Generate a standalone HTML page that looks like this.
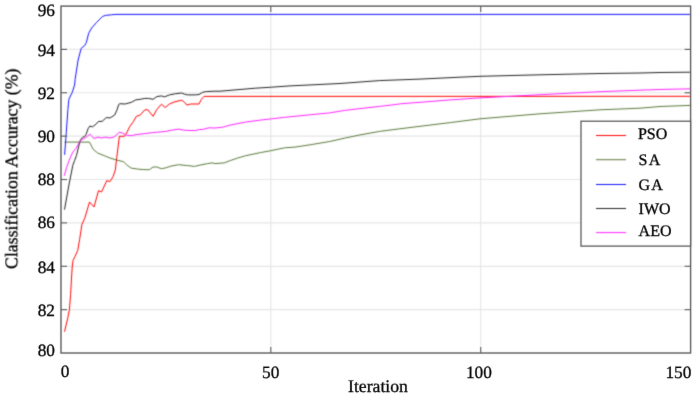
<!DOCTYPE html>
<html><head><meta charset="utf-8"><style>
html,body{margin:0;padding:0;background:#fff;}
svg{display:block;font-family:"Liberation Serif",serif;text-rendering:geometricPrecision;}
</style></head><body>
<svg width="695" height="397" viewBox="0 0 695 397">
<defs><filter id="bl" color-interpolation-filters="sRGB" filterUnits="userSpaceOnUse" x="0" y="0" width="695" height="397"><feConvolveMatrix order="3" kernelMatrix="1 4 1 4 16 4 1 4 1" divisor="36" edgeMode="duplicate"/></filter><filter id="bf" color-interpolation-filters="sRGB" filterUnits="userSpaceOnUse" x="0" y="0" width="695" height="397"><feConvolveMatrix order="3" kernelMatrix="1 8 1 8 64 8 1 8 1" divisor="100" edgeMode="duplicate"/></filter><filter id="bt" color-interpolation-filters="sRGB" filterUnits="userSpaceOnUse" x="0" y="0" width="695" height="397"><feConvolveMatrix order="3" kernelMatrix="1 16 1 16 256 16 1 16 1" divisor="324" edgeMode="duplicate"/></filter></defs>
<rect width="695" height="397" fill="#fff"/>
<g filter="url(#bl)">
<g stroke="#e6e6e6" stroke-width="1.2"><line x1="61.0" y1="309.66" x2="690.6" y2="309.66"/><line x1="61.0" y1="266.28" x2="690.6" y2="266.28"/><line x1="61.0" y1="222.90" x2="690.6" y2="222.90"/><line x1="61.0" y1="179.52" x2="690.6" y2="179.52"/><line x1="61.0" y1="136.14" x2="690.6" y2="136.14"/><line x1="61.0" y1="92.76" x2="690.6" y2="92.76"/><line x1="61.0" y1="49.38" x2="690.6" y2="49.38"/><line x1="270.80" y1="6.1" x2="270.80" y2="353.0"/><line x1="480.70" y1="6.1" x2="480.70" y2="353.0"/></g>
<polyline points="64.5,331.7 67.6,318.8 69.4,309.8 70.6,294.6 71.5,278.0 72.3,266.0 73.0,260.5 75.1,256.3 77.8,250.2 79.6,239.6 81.9,224.5 84.9,217.9 89.5,202.0 94.0,207.0 98.5,190.7 101.6,191.9 106.8,180.6 109.9,181.6 113.0,176.8 115.3,170.0 116.8,157.2 118.3,145.1 119.4,136.3 124.4,136.3 126.6,133.0 129.6,126.8 133.4,121.6 136.4,116.3 140.2,115.1 144.8,109.8 147.8,109.8 153.1,116.3 156.8,109.5 161.4,104.2 165.2,107.5 169.5,104.0 174.1,102.0 181.6,100.2 183.9,101.7 186.9,105.1 190.7,104.0 199.0,104.0 201.3,99.5 204.0,96.4 690.4,96.3" fill="none" stroke="#ff0000" stroke-width="1.0" stroke-linejoin="round"/>
<polyline points="64.5,142.1 89.5,142.1 93.2,149.3 97.8,153.1 105.3,156.1 110.0,158.0 116.0,159.9 123.6,161.7 126.6,164.8 131.2,168.1 137.2,169.0 143.2,169.6 149.3,169.7 153.1,167.0 156.8,167.0 161.4,168.7 165.9,167.8 171.0,166.1 178.6,164.7 187.7,165.6 194.5,166.4 200.0,165.1 207.6,163.6 212.1,162.9 215.1,163.6 224.2,162.9 230.2,160.6 237.8,158.0 245.3,155.8 260.4,152.6 270.2,150.8 284.6,147.8 295.0,147.1 310.1,144.8 329.7,141.5 344.8,138.1 360.0,134.9 379.6,131.4 395.0,129.4 420.0,126.3 450.2,122.6 480.0,118.8 540.0,113.8 600.0,109.8 640.0,108.2 660.0,106.5 690.4,105.4" fill="none" stroke="#5a7838" stroke-width="1.0" stroke-linejoin="round"/>
<polyline points="64.6,154.8 66.3,132.2 67.9,109.5 68.9,99.2 72.2,92.5 74.6,85.0 75.1,79.6 78.1,60.0 81.2,48.4 84.9,45.3 86.4,42.3 88.7,33.2 91.7,28.0 96.3,22.7 102.3,16.6 105.3,15.4 111.4,14.8 115.9,14.4 690.4,14.4" fill="none" stroke="#1010ff" stroke-width="1.0" stroke-linejoin="round"/>
<polyline points="64.5,209.6 69.1,184.0 71.9,170.0 72.8,165.3 74.7,160.3 76.6,155.2 78.5,147.0 80.4,140.1 82.3,137.6 84.8,136.3 86.1,134.4 88.0,128.8 89.9,126.0 92.4,126.9 96.1,124.1 98.4,121.5 102.2,121.3 106.3,117.6 110.1,117.9 114.7,115.0 116.9,110.1 118.8,104.4 119.9,103.7 125.1,104.0 131.2,102.4 135.7,99.9 140.2,99.3 144.8,98.4 148.5,98.4 153.1,99.3 156.8,96.6 161.4,95.9 164.4,96.9 169.5,94.9 175.6,93.7 181.6,93.0 184.6,94.2 187.7,94.9 195.2,94.9 199.0,94.5 202.8,92.2 206.6,91.5 214.9,91.2 220.0,91.2 255.3,88.2 271.4,87.2 290.0,85.9 340.0,83.5 379.3,80.6 420.0,79.1 460.0,77.2 480.0,76.3 540.0,74.8 600.0,73.5 640.0,73.0 660.0,72.5 690.4,72.2" fill="none" stroke="#222222" stroke-width="1.0" stroke-linejoin="round"/>
<polyline points="64.2,175.9 66.5,167.8 69.7,159.0 72.8,152.1 76.0,148.3 78.5,143.9 80.4,140.7 82.3,139.5 84.8,138.2 87.3,136.3 89.9,134.1 91.7,136.3 94.0,138.5 97.8,137.2 101.6,138.0 105.3,137.2 109.9,138.0 113.6,137.2 116.7,134.9 119.1,132.2 122.1,132.9 126.6,135.2 131.2,135.6 137.2,134.5 144.8,133.6 152.3,132.6 158.4,132.1 165.9,131.4 170.0,130.5 178.6,129.1 184.6,130.3 195.2,130.6 199.8,129.5 203.0,129.4 209.0,127.8 215.0,128.0 222.7,127.2 230.2,125.1 245.3,122.1 260.4,120.1 270.2,119.0 284.6,117.3 295.0,116.3 310.1,114.8 329.7,112.9 344.8,110.4 360.0,108.6 379.6,106.4 395.0,104.6 400.5,103.8 420.0,102.3 450.2,99.9 480.0,97.9 510.2,96.3 540.0,94.7 600.0,91.7 640.0,90.2 660.0,89.5 690.4,88.8" fill="none" stroke="#ff20ff" stroke-width="1.0" stroke-linejoin="round"/>
</g>
<g filter="url(#bf)">
<g stroke="#707070" stroke-width="1.2"><line x1="61.0" y1="309.66" x2="67.0" y2="309.66"/><line x1="690.6" y1="309.66" x2="684.6" y2="309.66"/><line x1="61.0" y1="266.28" x2="67.0" y2="266.28"/><line x1="690.6" y1="266.28" x2="684.6" y2="266.28"/><line x1="61.0" y1="222.90" x2="67.0" y2="222.90"/><line x1="690.6" y1="222.90" x2="684.6" y2="222.90"/><line x1="61.0" y1="179.52" x2="67.0" y2="179.52"/><line x1="690.6" y1="179.52" x2="684.6" y2="179.52"/><line x1="61.0" y1="136.14" x2="67.0" y2="136.14"/><line x1="690.6" y1="136.14" x2="684.6" y2="136.14"/><line x1="61.0" y1="92.76" x2="67.0" y2="92.76"/><line x1="690.6" y1="92.76" x2="684.6" y2="92.76"/><line x1="61.0" y1="49.38" x2="67.0" y2="49.38"/><line x1="690.6" y1="49.38" x2="684.6" y2="49.38"/><line x1="270.80" y1="353.0" x2="270.80" y2="347.0"/><line x1="270.80" y1="6.1" x2="270.80" y2="12.1"/><line x1="480.70" y1="353.0" x2="480.70" y2="347.0"/><line x1="480.70" y1="6.1" x2="480.70" y2="12.1"/></g>
<rect x="61.0" y="6.1" width="629.60" height="346.90" fill="none" stroke="#5e5e5e" stroke-width="1.4"/>
<rect x="581.0" y="121.2" width="109.60" height="124.90" fill="#fff" stroke="#5e5e5e" stroke-width="1.3"/>
</g>
<g filter="url(#bl)">
<line x1="596" y1="135.5" x2="626" y2="135.5" stroke="#ff0000" stroke-width="1.0"/>
<line x1="596" y1="159.7" x2="626" y2="159.7" stroke="#5a7838" stroke-width="1.0"/>
<line x1="596" y1="184.5" x2="626" y2="184.5" stroke="#1010ff" stroke-width="1.0"/>
<line x1="596" y1="208.5" x2="626" y2="208.5" stroke="#222222" stroke-width="1.0"/>
<line x1="596" y1="232.6" x2="626" y2="232.6" stroke="#ff20ff" stroke-width="1.0"/>
</g>
<g filter="url(#bt)" fill="#000" stroke="#000" stroke-width="0.3">
<g font-size="16"><text x="637.9" y="139">PSO</text><text x="638.6" y="165">S<tspan dx="1.2">A</tspan></text><text x="638.6" y="190">G<tspan dx="1.1">A</tspan></text><text x="638.6" y="214">IWO</text><text x="638.6" y="236">AEO</text></g>
<g font-size="17.3"><text x="55" y="356" text-anchor="end">80</text><text x="55" y="316" text-anchor="end">82</text><text x="55" y="273" text-anchor="end">84</text><text x="55" y="228" text-anchor="end">86</text><text x="55" y="185" text-anchor="end">88</text><text x="55" y="142" text-anchor="end">90</text><text x="55" y="99" text-anchor="end">92</text><text x="55" y="56" text-anchor="end">94</text><text x="55" y="16" text-anchor="end">96</text></g>
<g font-size="17.3"><text x="65.1" y="377" text-anchor="middle">0</text><text x="270.75" y="378" text-anchor="middle">50</text><text x="478.9" y="378" text-anchor="middle">100</text><text x="678.4" y="378" text-anchor="middle">150</text></g>
<text x="378.0" y="392" font-size="17.7" text-anchor="middle">Iteration</text>
<text transform="translate(17.3,168.75) rotate(-90)" font-size="17.8" text-anchor="middle">Classification Accuracy (%)</text>
</g>
</svg></body></html>
